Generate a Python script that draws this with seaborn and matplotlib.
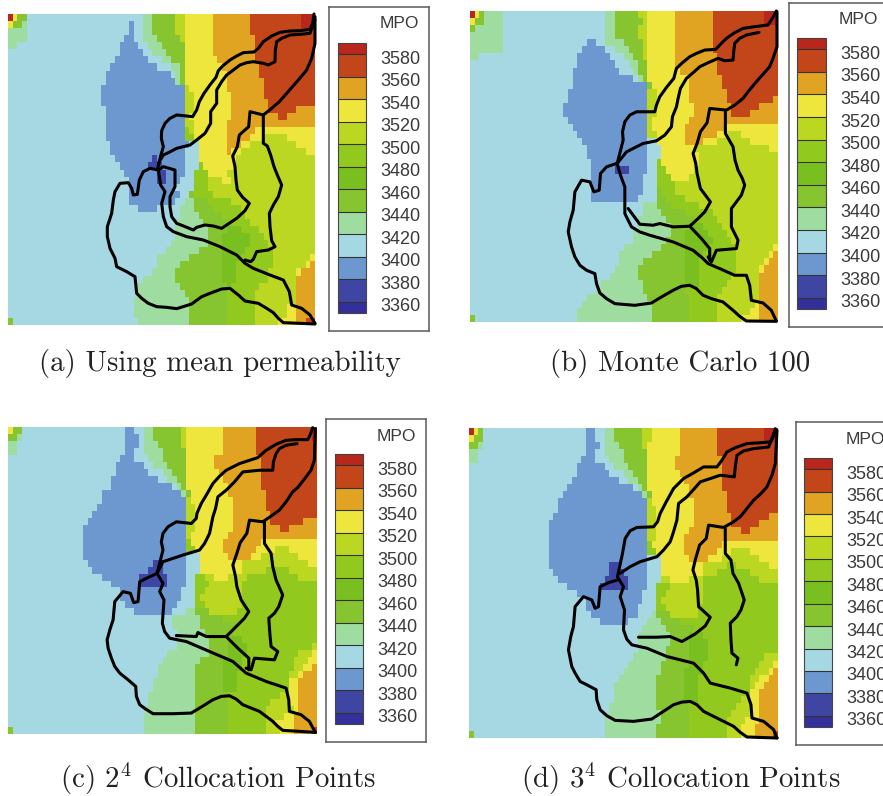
import numpy as np
import matplotlib
matplotlib.use("Agg")
import matplotlib.pyplot as plt
from matplotlib.colors import ListedColormap, BoundaryNorm
from matplotlib.transforms import ScaledTranslation
import seaborn as sns

W, H = 883, 796
LEVELS = [3360, 3380, 3400, 3420, 3440, 3460, 3480, 3500, 3520, 3540, 3560, 3580]
BOUNDS = [3350] + LEVELS + [3590]
COLORS = ["#33309b", "#3f45a3", "#6c98cf", "#a5d8e3", "#9fdca0", "#86c430", "#79bf1f",
          "#92c91f", "#bcd722", "#eee63d", "#e0a322", "#c3451a", "#b8261c"]
BAND_VALUE = {"0": 3355, "1": 3370, "2": 3390, "3": 3410, "4": 3430, "5": 3450, "6": 3470,
              "7": 3490, "8": 3510, "9": 3530, "A": 3550, "B": 3570, "C": 3585}
CAPTIONS = ["(a) Using mean permeability", "(b) Monte Carlo 100",
            "(c) $2^4$ Collocation Points", "(d) $3^4$ Collocation Points"]

# Each row: band:end-column (66 columns, 44 rows, top to bottom)
FIELD_A = [
"C:1 9:2 5:4 3:29 4:31 5:36 8:38 9:44 A:52 B:63 C:66",
"9:1 5:3 4:4 3:26 2:27 3:29 4:31 5:36 8:38 9:44 A:52 B:63 C:66",
"4:4 3:26 2:27 3:29 4:31 5:36 8:38 9:44 A:52 B:66",
"4:4 3:25 2:27 3:29 4:32 5:37 8:38 9:44 A:53 B:66",
"4:2 3:24 2:28 3:30 4:33 5:38 9:44 A:53 B:66",
"3:24 2:29 3:31 4:34 5:38 9:44 A:53 B:66",
"3:23 2:30 3:33 4:35 5:38 9:45 A:53 B:66",
"3:22 2:32 3:35 4:37 5:38 9:46 A:54 B:66",
"3:21 2:35 3:36 4:37 5:38 9:47 A:54 B:66",
"3:21 2:36 4:37 5:38 9:47 A:55 B:66",
"3:20 2:38 8:39 9:47 A:55 B:66",
"3:20 2:38 8:40 9:48 A:55 B:66",
"3:20 2:38 8:40 9:48 A:56 B:66",
"3:21 2:38 8:40 9:48 A:56 B:62 A:66",
"3:21 2:38 8:39 9:48 A:58 B:60 A:66",
"3:21 2:38 8:40 9:47 A:66",
"3:21 2:38 7:39 8:40 9:47 A:53 9:66",
"3:21 2:38 7:40 9:47 A:52 9:55 8:60 9:66",
"3:22 2:39 3:41 9:47 A:50 9:52 8:62 9:66",
"3:22 2:38 3:41 9:47 A:48 9:50 8:64 9:66",
"3:23 2:31 1:32 2:38 3:41 9:49 8:66",
"3:24 2:30 1:33 2:38 3:41 7:42 9:49 8:66",
"3:25 2:32 1:34 2:38 3:40 7:43 9:47 8:66",
"3:26 2:32 1:34 2:37 3:40 7:43 8:46 9:48 8:66",
"3:26 2:36 3:40 7:43 8:66",
"3:26 2:37 3:39 5:40 7:44 8:66",
"3:26 2:36 3:38 4:40 5:43 7:48 8:66",
"3:28 2:32 3:37 4:40 5:44 7:50 8:66",
"3:37 4:41 5:46 7:51 8:66",
"3:36 4:42 5:48 7:52 8:66",
"3:36 4:43 5:47 6:50 7:54 8:66",
"3:36 4:43 5:46 6:52 7:55 8:66",
"3:35 4:43 5:46 6:52 7:56 8:66",
"3:34 4:41 5:46 6:51 7:57 8:66",
"3:32 4:39 5:46 6:50 7:57 8:65 9:66",
"3:32 4:37 5:46 6:49 7:57 8:64 9:65 A:66",
"3:31 4:36 5:46 6:49 7:56 8:62 9:63 A:66",
"3:29 4:36 5:46 6:49 7:56 8:62 A:66",
"3:28 4:37 5:47 6:48 7:54 8:62 A:66",
"3:28 4:38 5:47 7:53 8:62 A:66",
"3:27 4:39 5:47 7:53 8:62 A:66",
"3:27 4:39 5:47 7:53 8:60 9:62 A:66",
"3:27 4:39 5:47 7:53 8:60 9:62 A:66",
"5:1 3:28 4:39 5:47 7:53 8:58 9:62 A:64 B:66",
]
FIELD_B = [
"C:1 9:2 5:3 4:7 3:29 4:31 5:36 8:38 9:44 A:52 B:63 C:66",
"9:1 5:3 4:7 3:29 4:31 5:37 8:38 9:44 A:52 B:63 C:66",
"5:1 4:7 3:29 4:31 5:36 8:38 9:44 A:52 B:66",
"4:7 3:29 4:31 5:36 8:38 9:44 A:52 B:66",
"4:7 3:25 2:27 3:29 4:33 5:37 8:38 9:44 A:52 B:66",
"4:7 3:24 2:29 3:31 4:34 5:37 8:38 9:44 A:52 B:66",
"4:2 3:23 2:30 3:33 4:35 5:37 8:38 9:44 A:53 B:66",
"3:23 2:31 3:34 4:36 5:38 9:44 A:53 B:66",
"3:22 2:32 3:35 4:36 5:38 9:45 A:53 B:66",
"3:22 2:35 3:36 4:37 5:38 9:47 A:54 B:66",
"3:22 2:38 5:39 9:47 A:54 B:66",
"3:21 2:38 8:40 9:47 A:55 B:66",
"3:21 2:38 8:40 9:47 A:55 B:65 A:66",
"3:20 2:38 8:40 9:48 A:56 B:62 A:66",
"3:20 2:38 8:40 9:48 A:56 B:60 A:66",
"3:21 2:38 8:39 9:47 A:66",
"3:22 2:38 8:39 9:46 A:55 9:66",
"3:23 2:38 8:40 9:46 A:53 9:55 8:58 9:66",
"3:24 2:38 3:40 9:46 A:50 9:53 8:60 9:66",
"3:25 2:38 3:41 9:48 8:64 9:66",
"3:25 2:38 3:41 9:49 8:66",
"3:26 2:38 3:40 7:41 9:49 8:66",
"3:26 2:31 1:34 2:38 3:40 7:42 9:48 8:66",
"3:26 2:37 3:40 7:43 9:47 8:66",
"3:26 2:37 3:40 7:44 8:66",
"3:26 2:37 3:40 5:41 7:44 8:66",
"3:26 2:36 3:40 5:42 7:46 8:66",
"3:37 4:40 5:43 7:49 8:66",
"3:37 4:41 5:46 7:52 8:66",
"3:36 4:42 5:48 7:53 8:66",
"3:36 4:43 5:47 6:50 7:54 8:66",
"3:35 4:43 5:46 6:51 7:55 8:66",
"3:35 4:42 5:46 6:52 7:56 8:66",
"3:33 4:41 5:46 6:51 7:57 8:65 9:66",
"3:32 4:39 5:46 6:50 7:57 8:64 9:65 A:66",
"3:32 4:37 5:46 6:49 7:57 8:63 9:64 A:66",
"3:31 4:36 5:46 6:49 7:57 8:62 9:63 A:66",
"3:30 4:36 5:46 6:49 7:56 8:62 A:66",
"3:28 4:37 5:46 6:49 7:55 8:62 A:66",
"3:27 4:37 5:46 7:54 8:62 A:66",
"3:25 4:38 5:47 7:53 8:62 A:66",
"3:24 4:39 5:47 7:53 8:61 9:62 A:66",
"3:23 4:39 5:47 7:53 8:60 9:62 A:66",
"5:1 3:23 4:39 5:47 7:53 8:58 9:62 A:66",
]
FIELD_C = [
"9:1 5:3 3:25 2:27 3:29 4:31 5:37 8:38 9:46 A:53 B:65 C:66",
"5:2 4:3 3:25 2:28 3:29 4:31 5:37 8:38 9:46 A:53 B:65 C:66",
"4:2 3:25 2:28 3:29 4:32 5:37 8:38 9:46 A:53 B:66",
"4:2 3:25 2:27 3:29 4:33 5:38 9:46 A:53 B:66",
"3:24 2:27 3:30 4:33 5:38 9:44 A:54 B:66",
"3:23 2:29 3:31 4:34 5:38 9:44 A:54 B:66",
"3:23 2:30 3:33 4:35 5:38 9:45 A:54 B:66",
"3:22 2:32 3:34 4:36 5:38 9:46 A:54 B:66",
"3:22 2:35 3:36 4:37 5:38 9:47 A:54 B:66",
"3:20 2:37 4:38 5:39 9:47 A:55 B:66",
"3:20 2:38 8:39 9:48 A:55 B:66",
"3:19 2:38 8:40 9:48 A:55 B:66",
"3:18 2:38 8:40 9:48 A:56 B:66",
"3:17 2:38 8:40 9:48 A:56 B:63 A:66",
"3:16 2:38 8:40 9:48 A:58 B:60 A:66",
"3:16 2:38 8:39 9:47 A:66",
"3:16 2:38 7:39 9:46 A:54 9:66",
"3:16 2:38 7:40 9:46 A:53 9:57 8:60 9:66",
"3:16 2:38 3:41 9:47 A:52 9:54 8:62 9:66",
"3:17 2:31 1:33 2:38 3:41 9:50 8:64 9:66",
"3:18 2:30 1:33 2:38 3:41 9:50 8:55 7:60 8:66",
"3:20 2:28 1:34 2:38 3:40 7:42 8:44 9:47 8:51 7:62 8:66",
"3:22 2:28 1:34 2:38 3:40 7:43 8:50 7:66",
"3:24 2:37 3:40 7:42 8:50 7:66",
"3:24 2:37 3:40 7:41 8:50 7:66",
"3:25 2:36 3:40 7:42 8:50 7:66",
"3:27 2:35 3:38 4:40 5:43 8:49 7:66",
"3:35 4:41 5:46 7:66",
"3:35 4:41 5:49 7:66",
"3:36 4:42 5:48 7:66",
"3:36 4:43 5:47 6:50 7:66",
"3:36 4:43 5:47 6:51 7:65 8:66",
"3:34 4:43 5:47 6:51 7:62 8:65 9:66",
"3:33 4:41 5:46 6:50 7:61 8:64 9:66",
"3:32 4:40 5:46 6:50 7:61 8:63 9:65 A:66",
"3:32 4:40 5:46 6:49 7:60 8:62 9:63 A:66",
"3:31 4:40 5:46 6:49 7:60 9:62 A:66",
"3:31 4:40 5:46 6:49 7:60 9:62 A:66",
"3:30 4:40 5:47 7:58 8:60 9:62 A:66",
"3:30 4:40 5:47 7:56 8:60 9:62 A:66",
"3:29 4:40 5:47 7:55 8:61 9:62 A:66",
"3:29 4:40 5:47 7:55 8:59 9:61 A:66",
"3:29 4:40 5:47 7:55 8:57 9:61 A:66",
"5:1 3:29 4:40 5:47 7:55 8:58 9:61 A:65 B:66",
]
FIELD_D = [
"C:1 9:2 5:3 3:25 2:27 3:29 4:31 5:37 8:39 9:45 A:53 B:63 C:66",
"9:1 5:3 3:25 2:27 3:29 4:31 5:37 8:39 9:45 A:53 B:63 C:66",
"5:2 4:3 3:25 2:28 3:29 4:32 5:37 8:38 9:45 A:53 B:66",
"4:2 3:25 2:27 3:29 4:33 5:38 9:45 A:53 B:66",
"4:2 3:24 2:27 3:30 4:33 5:38 9:44 A:54 B:66",
"3:23 2:29 3:31 4:34 5:38 9:44 A:54 B:66",
"3:23 2:30 3:33 4:35 5:38 9:45 A:54 B:66",
"3:22 2:32 3:34 4:36 5:38 9:46 A:54 B:66",
"3:21 2:35 3:36 4:37 5:38 9:47 A:54 B:66",
"3:20 2:37 4:38 5:39 9:47 A:55 B:66",
"3:19 2:38 8:39 9:48 A:55 B:66",
"3:19 2:38 8:40 9:48 A:55 B:66",
"3:18 2:38 8:40 9:48 A:56 B:64 A:66",
"3:17 2:38 8:40 9:48 A:56 B:62 A:66",
"3:17 2:38 8:40 9:47 A:58 B:60 A:66",
"3:17 2:38 8:40 9:46 A:66",
"3:17 2:38 7:39 9:46 A:54 9:66",
"3:17 2:38 7:40 9:46 A:53 9:56 8:60 9:66",
"3:17 2:38 3:41 9:47 A:51 9:54 8:62 9:66",
"3:17 2:30 1:32 2:38 3:41 9:50 8:55 7:57 8:64 9:66",
"3:18 2:30 1:33 2:38 3:41 9:50 8:53 7:60 8:66",
"3:19 2:29 1:34 2:38 3:41 8:43 9:47 8:50 7:62 8:66",
"3:21 2:28 1:34 2:38 3:40 7:43 8:50 7:66",
"3:23 2:37 3:40 7:42 8:50 7:66",
"3:25 2:37 3:40 7:41 8:50 7:66",
"3:25 2:36 3:40 7:42 8:49 7:66",
"3:26 2:36 3:39 4:40 5:43 8:49 7:66",
"3:28 2:34 3:38 4:41 5:45 7:66",
"3:37 4:42 5:48 7:66",
"3:36 4:43 5:47 6:50 7:66",
"3:36 4:43 5:47 6:51 7:66",
"3:36 4:42 5:47 6:51 7:66",
"3:35 4:42 5:47 6:51 7:63 8:66",
"3:34 4:41 5:47 6:50 7:62 8:65 9:66",
"3:33 4:41 5:46 6:50 7:61 8:64 9:65 A:66",
"3:32 4:40 5:46 6:49 7:60 8:62 9:64 A:66",
"3:31 4:40 5:46 6:49 7:60 8:61 9:63 A:66",
"3:31 4:40 5:46 6:49 7:60 9:62 A:66",
"3:31 4:40 5:46 6:49 7:58 8:60 9:62 A:66",
"3:30 4:40 5:47 7:57 8:60 9:62 A:66",
"3:30 4:41 5:47 7:56 8:60 9:62 A:66",
"3:29 4:41 5:47 7:55 8:59 9:62 A:66",
"3:29 4:40 5:47 7:55 8:58 9:61 A:66",
"5:1 3:29 4:40 5:47 7:55 8:58 9:61 A:65 B:66",
]

# River traces, in the map's own read-off units
RIVERS_A = [
 [(942,42),(938,70),(930,88),(900,92),(870,93),(840,97),(815,108),(790,125),(775,145),(762,156),(730,158),(710,168),(690,180),(668,198),(655,212),(648,232),(632,252),(612,280),(598,305),(590,330),(578,350),(550,347),(530,345),(510,355),(495,370),(485,392),(484,415),(490,440),(482,468),(472,510)],
 [(945,60),(930,100),(900,103),(870,105),(845,115),(830,125),(826,150),(825,185),(805,195),(790,190),(760,185),(740,188),(720,195),(700,210),(680,225),(665,245),(650,270),(650,310),(632,335),(632,370),(615,400),(590,420),(570,435),(530,445),(505,458),(490,465),(475,490)],
 [(945,50),(945,130),(935,175),(920,210),(895,240),(860,280),(838,305),(815,325),(790,345),(750,335),(746,380),(718,405),(712,440),(698,468),(705,500),(708,540),(712,570),(728,592),(748,610),(735,632),(710,655),(665,685),(640,678),(615,675),(590,682),(580,690),(548,677),(530,670),(515,650),(510,620),(510,590),(525,560),(525,510),(490,500),(475,510)],
 [(790,345),(790,430),(802,438),(812,465),(822,500),(832,525),(845,555),(835,590),(820,615),(808,640),(810,680),(815,722),(825,740),(805,750),(770,755),(760,778),(752,785),(735,780)],
 [(475,510),(482,555),(495,575),(485,610),(490,650),(500,680),(520,695),(560,710),(610,720),(660,740),(710,765),(735,790),(760,805),(810,825),(850,840),(868,875),(875,915),(905,925),(930,945),(945,970)],
 [(945,972),(900,970),(850,968),(835,955),(820,938),(800,925),(775,910),(735,903),(715,885),(690,865),(665,867),(635,878),(605,890),(575,912),(530,926),(500,922),(470,920),(445,910),(425,895),(410,880),(407,850),(405,830),(380,815),(350,800),(345,775),(330,745),(322,710),(322,680),(335,640),(340,600),(345,575),(360,550),(385,548),(395,565),(400,585),(412,583),(418,540),(430,515),(450,505),(475,510)],
]
RIVERS_B = [
 [(950,33),(938,55),(925,75),(885,80),(850,85),(825,98),(800,115),(780,135),(768,148),(735,150),(710,160),(690,170),(668,188),(650,205),(642,235),(620,262),(600,290),(590,315),(585,335),(555,335),(530,335),(510,345),(495,365),(488,395),(490,420),(472,490)],
 [(898,97),(860,105),(840,115),(825,130),(822,155),(820,180),(795,182),(775,175),(745,188),(720,200),(700,218),(680,235),(662,265),(655,295),(650,320),(638,350),(635,380),(615,405),(590,422),(550,430),(520,445),(500,455),(472,490)],
 [(952,35),(952,140),(940,175),(930,200),(905,228),(890,245),(865,275),(850,295),(825,315),(800,330),(750,325),(742,368),(722,395),(712,430),(700,460),(708,490),(712,520),(722,565),(752,605),(735,635),(715,655),(690,678),(640,680),(600,670),(580,675),(540,672),(520,645),(505,625)],
 [(797,335),(797,400),(820,440),(826,480),(835,510),(848,535),(855,555),(845,585),(830,605),(815,625),(815,680),(835,720),(830,745),(770,750),(755,785),(745,770)],
 [(690,678),(725,715),(750,745),(750,780)],
 [(472,490),(482,525),(495,560),(495,640),(515,680),(540,695),(570,705),(640,725),(700,750),(730,775),(745,790),(780,805),(825,825),(860,825),(870,855),(875,900),(910,908),(935,930),(950,962)],
 [(950,963),(860,962),(840,948),(820,930),(790,905),(755,895),(730,885),(710,865),(690,855),(665,858),(640,870),(605,890),(575,908),(525,915),(465,910),(440,895),(420,878),(410,850),(405,820),(380,810),(360,795),(345,770),(335,740),(325,695),(330,665),(340,630),(345,575),(365,540),(390,545),(402,575),(418,570),(422,520),(440,500),(470,490)],
]
RIVERS_C = [
 [(940,52),(932,75),(925,88),(890,88),(860,90),(830,102),(800,120),(775,142),(720,160),(680,180),(660,198),(640,220),(620,255),(605,280),(592,310),(590,325),(575,340),(530,335),(505,350),(490,370),(485,395),(490,420),(472,490)],
 [(893,100),(860,105),(840,115),(830,130),(822,155),(820,180),(780,180),(730,185),(705,215),(680,240),(655,260),(648,295),(640,320),(630,370),(615,400),(600,420),(550,435),(520,445),(490,455),(472,490)],
 [(948,55),(945,150),(935,180),(920,200),(895,232),(880,245),(860,275),(840,300),(815,318),(790,335),(750,330),(742,370),(722,398),(712,430),(700,465),(708,500),(712,530),(725,570),(748,605),(735,625),(720,640),(680,680),(620,680),(595,668),(590,680),(530,677)],
 [(795,335),(795,400),(815,430),(820,470),(830,510),(850,555),(838,590),(825,610),(808,625),(812,680),(815,710),(835,725),(825,750),(765,745),(755,780),(740,775)],
 [(680,680),(715,715),(748,745),(748,780)],
 [(472,490),(490,520),(480,545),(493,570),(488,640),(495,665),(510,685),(560,695),(630,725),(700,755),(740,790),(800,815),(860,835),(868,870),(870,905),(905,915),(930,935),(948,968)],
 [(948,968),(850,962),(835,950),(820,935),(780,905),(730,885),(710,868),(690,858),(665,860),(640,870),(605,892),(575,910),(520,912),(460,912),(438,898),(420,885),(410,860),(408,830),(385,810),(360,790),(345,770),(335,745),(325,715),(322,690),(330,660),(340,630),(345,575),(370,545),(392,550),(402,578),(415,575),(420,515),(440,505),(472,490)],
]
RIVERS_D = [
 [(945,55),(938,80),(930,95),(890,98),(860,100),(825,112),(800,125),(785,150),(770,170),(730,170),(700,188),(670,205),(640,235),(618,275),(600,310),(592,335),(580,350),(530,352),(510,362),(495,385),(487,430),(472,500)],
 [(945,60),(925,110),(880,115),(850,122),(830,135),(825,170),(822,200),(780,195),(750,205),(720,215),(700,238),(680,260),(655,280),(650,330),(640,365),(630,395),(610,420),(590,440),(540,455),(510,470),(480,490)],
 [(950,60),(945,160),(935,195),(920,230),(900,252),(880,270),(860,295),(840,320),(815,338),(790,352),(745,345),(738,385),(718,405),(705,450),(698,480),(708,510),(712,540),(715,590),(750,622),(735,648),(705,672),(665,695),(630,680),(590,682),(535,682)],
 [(795,355),(795,430),(812,450),(818,490),(835,520),(852,570),(842,600),(830,620),(810,640),(812,690),(815,730),(833,745),(828,765)],
 [(472,500),(490,530),(480,560),(493,600),(490,660),(500,688),(515,705),(560,715),(620,740),(700,760),(730,790),(750,820),(810,835),(860,850),(872,885),(875,925),(910,935),(940,960),(950,985)],
 [(950,985),(860,982),(840,968),(820,950),(770,925),(730,905),(710,885),(690,875),(665,877),(640,885),(605,908),(575,928),(520,935),(465,932),(440,918),(420,900),(410,870),(408,840),(380,825),(360,815),(345,790),(335,770),(325,720),(332,680),(340,650),(345,590),(370,560),(395,570),(405,595),(415,590),(420,530),(445,518),(472,510)],
]

# layout in pixels: map box, read-off extent of map, legend box, colour bar, title and caption placement
PANELS = [
 dict(field=FIELD_A, rivers=RIVERS_A, map=(8,14,315,325),  ext=(24,945,42,975),  box=(329,7,429,331),  bar=(338,43,366,313),  mpo=(380,24), cap=(219.5,364)),
 dict(field=FIELD_B, rivers=RIVERS_B, map=(470,11,778,322),ext=(30,955,33,965),  box=(789,3,900,327),  bar=(797,38,826,309),  mpo=(839,20), cap=(680,364)),
 dict(field=FIELD_C, rivers=RIVERS_C, map=(8,427,317,734), ext=(24,953,50,973),  box=(326,419,426,742),bar=(335,454,363,724), mpo=(377,436), cap=(218,779)),
 dict(field=FIELD_D, rivers=RIVERS_D, map=(469,428,778,738),ext=(27,953,53,985), box=(796,422,900,745),bar=(804,458,832,727), mpo=(846,439), cap=(681,779)),
]

sns.set_theme(style="white")
plt.rcParams["mathtext.fontset"] = "cm"
SANS = "Liberation Sans"
cmap = ListedColormap(COLORS)
norm = BoundaryNorm(BOUNDS, len(COLORS))


def parse(rows):
    out = []
    for row in rows:
        vals, start = [], 0
        for tok in row.split():
            band, end = tok.split(":")
            vals += [BAND_VALUE[band]] * (int(end) - start)
            start = int(end)
        out.append(vals)
    return np.array(out, dtype=float)


def px_axes(fig, l, t, r, b, **kw):
    return fig.add_axes([l / W, 1 - b / H, (r - l) / W, (b - t) / H], **kw)


fig = plt.figure(figsize=(W / 100, H / 100), dpi=100, facecolor="white")
for i, p in enumerate(PANELS):
    box = px_axes(fig, *p["box"], zorder=1)
    box.set_xticks([]); box.set_yticks([])
    for s in box.spines.values():
        s.set_visible(True); s.set_color("#5a5a5a"); s.set_linewidth(1.1)

    ax = px_axes(fig, *p["map"], zorder=2)
    cax = px_axes(fig, *p["bar"], zorder=3)
    sns.heatmap(parse(p["field"]), ax=ax, cbar_ax=cax, cmap=cmap, norm=norm,
                xticklabels=False, yticklabels=False,
                cbar_kws=dict(ticks=LEVELS, spacing="proportional", drawedges=True))
    x0, x1, y0, y1 = p["ext"]
    for trace in p["rivers"]:
        xs = [(q[0] - x0) / (x1 - x0) * 66 for q in trace]
        ys = [(q[1] - y0) / (y1 - y0) * 44 for q in trace]
        sns.lineplot(x=xs, y=ys, ax=ax, sort=False, estimator=None, color="black",
                     linewidth=2.2, clip_on=False, solid_joinstyle="round", solid_capstyle="round")
    ax.set_xlim(0, 66); ax.set_ylim(44, 0)
    ax.set_xlabel(""); ax.set_ylabel("")

    cax.tick_params(which="both", length=0, pad=10, labelsize=13, labelcolor="#3a3a3a")
    off = ScaledTranslation(0, -3 / 100, fig.dpi_scale_trans)
    for t in cax.get_yticklabels():
        t.set_fontfamily(SANS)
        t.set_transform(t.get_transform() + off)
    cb = ax.collections[0].colorbar
    cb.outline.set_visible(True); cb.outline.set_edgecolor("#444444"); cb.outline.set_linewidth(0.8)
    cb.dividers.set_color("#333333"); cb.dividers.set_linewidth(0.8)

    fig.text(p["mpo"][0] / W, 1 - p["mpo"][1] / H, "MPO", family=SANS, fontsize=12.5,
             color="#3a3a3a", ha="left", va="center", zorder=5)
    fig.text(p["cap"][0] / W, 1 - p["cap"][1] / H, CAPTIONS[i], family="cmr10",
             fontsize=20.8, color="#222222", ha="center", va="center", zorder=5)

fig.savefig("out.png", dpi=100, facecolor="white")
